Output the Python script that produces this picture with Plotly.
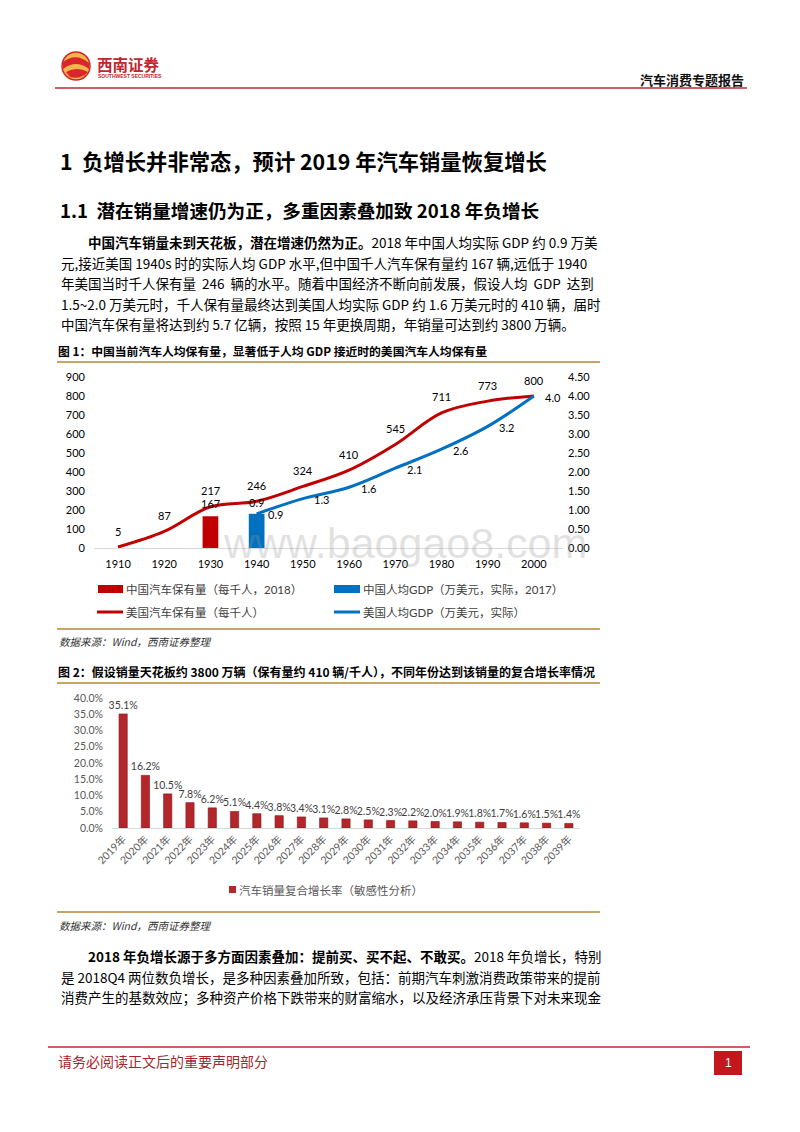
import plotly.graph_objects as go

W, H = 800, 1132
OFF = 8  # page body margin of the written html


def px(x):
    return (x - OFF) / W


def py(y):
    return 1 - (y - OFF) / H


CJK = "Noto Sans CJK SC"
NUM = "Lato, Noto Sans CJK SC"

# ---------------- Figure 1 data ----------------
years = [1910, 1920, 1930, 1940, 1950, 1960, 1970, 1980, 1990, 2000]
us_cars_per_1000 = [5, 87, 217, 246, 324, 410, 545, 711, 773, 800]
gdp_years = [1940, 1950, 1960, 1970, 1980, 1990, 2000]
us_gdp_10k_usd = [0.9, 1.3, 1.6, 2.1, 2.6, 3.2, 4.0]
cn_cars_x = [1930]
cn_cars_per_1000 = [167]
cn_gdp_x = [1940]
cn_gdp_10k_usd = [0.9]
left_ticks = [0, 100, 200, 300, 400, 500, 600, 700, 800, 900]
right_ticks = [0.0, 0.5, 1.0, 1.5, 2.0, 2.5, 3.0, 3.5, 4.0, 4.5]
legend1_labels = ["中国汽车保有量（每千人，2018）", "中国人均GDP（万美元，实际，2017）",
                  "美国汽车保有量（每千人）", "美国人均GDP（万美元，实际）"]

# ---------------- Figure 2 data ----------------
cagr_years = ["2019年", "2020年", "2021年", "2022年", "2023年", "2024年", "2025年",
              "2026年", "2027年", "2028年", "2029年", "2030年", "2031年", "2032年",
              "2033年", "2034年", "2035年", "2036年", "2037年", "2038年", "2039年"]
cagr_pct = [35.1, 16.2, 10.5, 7.8, 6.2, 5.1, 4.4, 3.8, 3.4, 3.1, 2.8,
            2.5, 2.3, 2.2, 2.0, 1.9, 1.8, 1.7, 1.6, 1.5, 1.4]
pct_ticks = [0, 5, 10, 15, 20, 25, 30, 35, 40]
legend2_label = "汽车销量复合增长率（敏感性分析）"

RED = "#C00000"
BLUE = "#0070C0"
TAN = "#C9A468"

fig = go.Figure()

# ---- Figure 1 traces ----
fig.add_trace(go.Bar(x=cn_cars_x, y=cn_cars_per_1000, width=3.4, marker=dict(color=RED, line=dict(width=0)),
                     xaxis="x", yaxis="y", hoverinfo="skip"))
fig.add_trace(go.Scatter(x=years, y=us_cars_per_1000, mode="lines",
                         line=dict(color=RED, width=3, shape="spline", smoothing=1.0),
                         xaxis="x", yaxis="y", hoverinfo="skip"))
fig.add_trace(go.Bar(x=cn_gdp_x, y=cn_gdp_10k_usd, width=3.4, marker=dict(color=BLUE, line=dict(width=0)),
                     xaxis="x", yaxis="y2", hoverinfo="skip"))
fig.add_trace(go.Scatter(x=gdp_years, y=us_gdp_10k_usd, mode="lines",
                         line=dict(color=BLUE, width=3, shape="spline", smoothing=1.0),
                         xaxis="x", yaxis="y2", hoverinfo="skip"))

# ---- Figure 2 trace ----
fig.add_trace(go.Bar(x=cagr_years, y=cagr_pct, width=0.37,
                     marker=dict(color="#B3262B", line=dict(color="#8A1519", width=0.6)),
                     text=[f"{v:.1f}%" for v in cagr_pct], textposition="outside",
                     constraintext="none", cliponaxis=False,
                     textfont=dict(family=NUM, size=10.5, color="#404040"),
                     xaxis="x2", yaxis="y3", hoverinfo="skip"))

annotations = []
shapes = []


def txt(x, y, s, size, color="#000000", family=CJK, xanchor="left", yanchor="middle"):
    annotations.append(dict(x=px(x), y=py(y), xref="paper", yref="paper", text=s, showarrow=False,
                            xanchor=xanchor, yanchor=yanchor, align=xanchor if xanchor != "center" else "center",
                            borderpad=0,
                            font=dict(family=family, size=size, color=color)))


def hline(x0, x1, y, color, width):
    shapes.append(dict(type="line", xref="paper", yref="paper", x0=px(x0), x1=px(x1),
                       y0=py(y), y1=py(y), line=dict(color=color, width=width)))


def rect(x0, y0, x1, y1, color):
    shapes.append(dict(type="rect", xref="paper", yref="paper", x0=px(x0), x1=px(x1),
                       y0=py(y0), y1=py(y1), fillcolor=color, line=dict(width=0)))


# ---- Header ----
shapes.append(dict(type="circle", xref="paper", yref="paper", x0=px(62), x1=px(90), y0=py(52), y1=py(80),
                   fillcolor="#F2B64C", line=dict(color="#D9262B", width=1.5)))
path = (f"M {px(63)},{py(62)} Q {px(76)},{py(52)} {px(89)},{py(63)} "
        f"L {px(89)},{py(69)} Q {px(76)},{py(59)} {px(63)},{py(69)} Z")
shapes.append(dict(type="path", xref="paper", yref="paper", path=path, fillcolor="#D9262B", line=dict(width=0)))
path2 = (f"M {px(66)},{py(72)} Q {px(77)},{py(66)} {px(88)},{py(72)} "
         f"Q {px(80)},{py(80)} {px(70)},{py(77)} Z")
shapes.append(dict(type="path", xref="paper", yref="paper", path=path2, fillcolor="#D9262B", line=dict(width=0)))
txt(96, 64, "<b>西南证券</b>", 15.5, "#C1272D")
txt(97, 76, "<b>SOUTHWEST SECURITIES</b>", 5, "#C1272D", family="Liberation Sans")
txt(745, 79, "<b>汽车消费专题报告</b>", 13, "#111111", xanchor="right")
hline(55, 747, 88, "#C0282D", 1.6)

# ---- Headings ----
txt(59, 160, "<b>1  负增长并非常态，预计 2019 年汽车销量恢复增长</b>", 21.3)
txt(59, 209, "<b>1.1  潜在销量增速仍为正，多重因素叠加致 2018 年负增长</b>", 18.6)

# ---- Paragraph 1 ----
p1 = [
    (87, "<b>中国汽车销量未到天花板，潜在增速仍然为正。</b>2018 年中国人均实际 GDP 约 0.9 万美"),
    (60, "元,接近美国 1940s 时的实际人均 GDP 水平,但中国千人汽车保有量约 167 辆,远低于 1940"),
    (60, "年美国当时千人保有量  246  辆的水平。随着中国经济不断向前发展，假设人均  GDP  达到"),
    (60, "1.5~2.0 万美元时，千人保有量最终达到美国人均实际 GDP 约 1.6 万美元时的 410 辆，届时"),
    (60, "中国汽车保有量将达到约 5.7 亿辆，按照 15 年更换周期，年销量可达到约 3800 万辆。"),
]
for i, (x, s) in enumerate(p1):
    txt(x, 242 + i * 20.5, s, 13.5)

# ---- Figure 1 title / frame ----
txt(57, 351, "<b>图 1：中国当前汽车人均保有量，显著低于人均 GDP 接近时的美国汽车人均保有量</b>", 11.8)
hline(57, 600, 362, TAN, 2)

# Figure 1 data labels
for yr, v in zip(years, us_cars_per_1000):
    annotations.append(dict(x=yr, y=v, xref="x", yref="y", text=str(v), showarrow=False, yshift=16,
                            font=dict(family=NUM, size=11, color="#000")))
for yr, v in zip(gdp_years, us_gdp_10k_usd):
    annotations.append(dict(x=yr, y=v, xref="x", yref="y2", text=f"{v:.1f}", showarrow=False,
                            xshift=19, yshift=-1, font=dict(family=NUM, size=11, color="#000")))
for yr, v in zip(cn_cars_x, cn_cars_per_1000):
    annotations.append(dict(x=yr, y=v, xref="x", yref="y", text=str(v), showarrow=False, yshift=13,
                            font=dict(family=NUM, size=11, color="#000")))
for yr, v in zip(cn_gdp_x, cn_gdp_10k_usd):
    annotations.append(dict(x=yr, y=v, xref="x", yref="y2", text=f"{v:.1f}", showarrow=False, yshift=11,
                            font=dict(family=NUM, size=11, color="#000")))

# Figure 1 legend
rect(98, 585, 123, 593, RED)
rect(334, 585, 360, 593, BLUE)
hline(97, 123, 612, RED, 3)
hline(334, 360, 612, BLUE, 3)
txt(125, 589, legend1_labels[0], 11.5, "#404040", family=NUM)
txt(362, 589, legend1_labels[1], 11.5, "#404040", family=NUM)
txt(125, 612, legend1_labels[2], 11.5, "#404040", family=NUM)
txt(362, 612, legend1_labels[3], 11.5, "#404040", family=NUM)
hline(57, 600, 629, TAN, 2)
txt(58, 641, "<i>数据来源：Wind，西南证券整理</i>", 10.5, "#333333")

# Watermark
annotations.append(dict(x=px(405), y=py(543), xref="paper", yref="paper", text="www.baogao8.com",
                        showarrow=False, xanchor="center", yanchor="middle",
                        font=dict(family="Liberation Sans", size=43, color="rgba(150,150,150,0.28)")))

# ---- Figure 2 title / frame ----
txt(57, 672, "<b>图 2：假设销量天花板约 3800 万辆（保有量约 410 辆/千人），不同年份达到该销量的复合增长率情况</b>", 12.0)
hline(57, 600, 683, TAN, 2)
rect(229, 886, 236, 893, "#B3262B")
txt(238, 890, legend2_label, 11.5, "#595959", family=NUM)
hline(57, 600, 912, TAN, 2)
txt(58, 925, "<i>数据来源：Wind，西南证券整理</i>", 10.5, "#333333")

# ---- Paragraph 2 ----
p2 = [
    (87, "<b>2018 年负增长源于多方面因素叠加：提前买、买不起、不敢买。</b>2018 年负增长，特别"),
    (60, "是 2018Q4 两位数负增长，是多种因素叠加所致，包括：前期汽车刺激消费政策带来的提前"),
    (60, "消费产生的基数效应；多种资产价格下跌带来的财富缩水，以及经济承压背景下对未来现金"),
]
for i, (x, s) in enumerate(p2):
    txt(x, 956 + i * 20.7, s, 13.5)

# ---- Footer ----
hline(48, 750, 1047, "#C0282D", 1.6)
txt(57, 1061, "请务必阅读正文后的重要声明部分", 14, "#A3282C")
rect(714, 1051, 742, 1075, "#C4161C")
txt(728, 1063, "1", 12, "#FFFFFF", family="Liberation Sans", xanchor="center")

tickfont1 = dict(family=NUM, size=11, color="#000000")
tickfont2 = dict(family=NUM, size=10.5, color="#595959")

fig.update_layout(
    width=W, height=H,
    margin=dict(l=0, r=0, t=0, b=0, pad=0, autoexpand=False),
    paper_bgcolor="white", plot_bgcolor="rgba(0,0,0,0)",
    showlegend=False, barmode="overlay",
    xaxis=dict(domain=[px(94), px(563)], range=[1904.8, 2006.3], anchor="y", automargin=False,
               tickmode="array", tickvals=years, showline=True, linecolor="#D9D9D9", linewidth=1,
               showgrid=False, zeroline=False, ticks="", tickfont=tickfont1, ticklabelstandoff=6),
    yaxis=dict(domain=[py(548), py(377)], range=[0, 900], anchor="x", tickmode="array", automargin=False,
               tickvals=left_ticks, showgrid=False, zeroline=False, showline=False, ticks="",
               tickfont=tickfont1, ticklabelstandoff=8),
    yaxis2=dict(overlaying="y", side="right", anchor="x", range=[0, 4.5], tickmode="array", automargin=False,
                tickvals=right_ticks, ticktext=[f"{v:.2f}" for v in right_ticks], showgrid=False,
                zeroline=False, showline=False, ticks="", tickfont=tickfont1, ticklabelstandoff=4),
    xaxis2=dict(domain=[px(112), px(580)], anchor="y3", type="category", range=[-0.5, 20.5], automargin=False,
                tickangle=-45, tickfont=tickfont2, showline=True, linecolor="#D9D9D9", linewidth=1,
                showgrid=False, zeroline=False, ticks=""),
    yaxis3=dict(domain=[py(828), py(698)], range=[0, 40], anchor="x2", tickmode="array", automargin=False,
                tickvals=pct_ticks, ticktext=[f"{v:.1f}%" for v in pct_ticks], showgrid=False,
                zeroline=False, showline=False, ticks="", tickfont=tickfont2, ticklabelstandoff=8),
    annotations=annotations,
    shapes=shapes,
)

fig.write_html("out.html")
